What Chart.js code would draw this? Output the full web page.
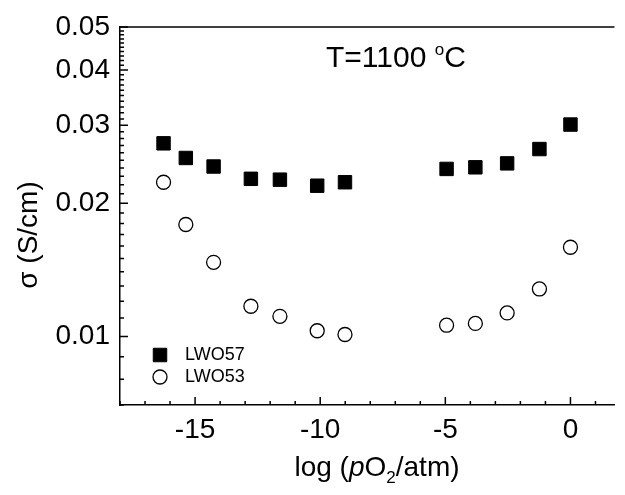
<!DOCTYPE html>
<html lang="en">
  <head>
    <meta charset="UTF-8" />
    <meta name="viewport" content="width=device-width, initial-scale=1.0" />
    <script src="https://cdn.jsdelivr.net/npm/chart.js"></script>
    <title>Conductivity vs pO2</title>
    <style>
      body { margin: 0; background: #fff; }
      #wrap { width: 625px; height: 495px; }
    </style>
  </head>
  <body>
    <div id="wrap"><canvas id="myChart"></canvas></div>

    <script>
      // log(pO2/atm) of each measurement, shared by both samples
      const logPO2 = [-16.26, -15.37, -14.26, -12.77, -11.61, -10.12, -9.01, -4.95, -3.8, -2.53, -1.24, 0.0];
      // conductivity in S/cm
      const sigmaLWO57 = [0.0273, 0.0253, 0.0242, 0.0227, 0.0226, 0.0219, 0.0223, 0.0239, 0.0241, 0.0246, 0.0265, 0.0301];
      const sigmaLWO53 = [0.0223, 0.0179, 0.0147, 0.0117, 0.0111, 0.0103, 0.0101, 0.0106, 0.0107, 0.0113, 0.0128, 0.0159];
      const seriesNames = ["LWO57", "LWO53"];
      const xTickLabels = [-15, -10, -5, 0];
      const yTickLabels = [0.01, 0.02, 0.03, 0.04, 0.05];

      const FONT = '"Liberation Sans", Arial, sans-serif';

      function toPoints(ys) {
        return logPO2.map((x, i) => ({ x: x, y: ys[i] }));
      }

      // inward ticks, top frame line, titles, legend and the temperature note
      const decorations = {
        id: "decorations",
        afterDraw(chart) {
          const ctx = chart.ctx;
          const area = chart.chartArea;
          const xs = chart.scales.x;
          const ys = chart.scales.y;
          ctx.save();
          ctx.strokeStyle = "#000";
          ctx.lineWidth = 1.5;

          // top frame line
          ctx.beginPath();
          ctx.moveTo(area.left, area.top);
          ctx.lineTo(area.right, area.top);
          ctx.stroke();

          // x ticks every 1, long ones on the labels
          ctx.beginPath();
          for (let v = Math.ceil(xs.min); v <= xs.max; v++) {
            const px = xs.getPixelForValue(v);
            const len = xTickLabels.includes(v) ? 8 : 4;
            ctx.moveTo(px, area.bottom);
            ctx.lineTo(px, area.bottom - len);
          }
          // y ticks every 0.001, long ones on the labels
          for (let k = 7; k <= 50; k++) {
            const v = k / 1000;
            const py = ys.getPixelForValue(v);
            const len = k % 10 === 0 ? 8 : 4;
            ctx.moveTo(area.left, py);
            ctx.lineTo(area.left + len, py);
          }
          ctx.stroke();

          ctx.fillStyle = "#000";

          // x title: log (pO2/atm)
          const parts = [
            { t: "log (", f: "28px " + FONT, dy: 0 },
            { t: "p", f: "italic 28px " + FONT, dy: 0 },
            { t: "O", f: "28px " + FONT, dy: 0 },
            { t: "2", f: "17px " + FONT, dy: 7 },
            { t: "/atm)", f: "28px " + FONT, dy: 0 },
          ];
          let total = 0;
          parts.forEach((p) => {
            ctx.font = p.f;
            p.w = ctx.measureText(p.t).width;
            total += p.w;
          });
          let cx = 377 - total / 2;
          ctx.textBaseline = "alphabetic";
          ctx.textAlign = "left";
          parts.forEach((p) => {
            ctx.font = p.f;
            ctx.fillText(p.t, cx, 476 + p.dy);
            cx += p.w;
          });

          // y title
          ctx.save();
          ctx.translate(37, 235);
          ctx.rotate(-Math.PI / 2);
          ctx.font = "28px " + FONT;
          ctx.textAlign = "center";
          ctx.textBaseline = "alphabetic";
          ctx.fillText("\u03c3 (S/cm)", 0, 0);
          ctx.restore();

          // temperature note
          ctx.font = "30px " + FONT;
          ctx.textAlign = "left";
          ctx.fillText("T=1100 ", 326, 67);
          let tx = 326 + ctx.measureText("T=1100 ").width;
          ctx.font = "17px " + FONT;
          ctx.fillText("o", tx, 55);
          tx += ctx.measureText("o").width;
          ctx.font = "30px " + FONT;
          ctx.fillText("C", tx, 67);

          // legend inside the plot, markers taken from the datasets
          chart.data.datasets.forEach((ds, i) => {
            const my = 355 + i * 22;
            ctx.lineWidth = ds.borderWidth;
            ctx.fillStyle = ds.pointBackgroundColor;
            ctx.strokeStyle = ds.pointBorderColor;
            ctx.beginPath();
            if (ds.pointStyle === "rect") {
              const s = 13.5;
              ctx.rect(160 - s / 2, my - s / 2, s, s);
            } else {
              ctx.arc(160, my, ds.pointRadius, 0, Math.PI * 2);
            }
            ctx.fill();
            ctx.stroke();
            ctx.fillStyle = "#000";
            ctx.font = "18px " + FONT;
            ctx.textBaseline = "middle";
            ctx.fillText(ds.label, 185, my);
          });
          ctx.restore();
        },
      };

      const config = {
        type: "scatter",
        data: {
          datasets: [
            {
              label: seriesNames[0],
              data: toPoints(sigmaLWO57),
              pointStyle: "rect",
              pointRadius: 9.5,
              pointHoverRadius: 9.5,
              borderWidth: 1,
              pointBackgroundColor: "#000",
              pointBorderColor: "#000",
            },
            {
              label: seriesNames[1],
              data: toPoints(sigmaLWO53),
              pointStyle: "circle",
              pointRadius: 7,
              pointHoverRadius: 7,
              borderWidth: 1.3,
              pointBackgroundColor: "#fff",
              pointBorderColor: "#000",
            },
          ],
        },
        options: {
          responsive: true,
          maintainAspectRatio: false,
          animation: false,
          layout: { padding: { top: 27, left: 0, right: 0, bottom: 0 } },
          plugins: {
            legend: { display: false },
            tooltip: { enabled: false },
          },
          scales: {
            x: {
              type: "linear",
              min: -18,
              max: 1.76,
              grid: { display: false, drawTicks: false },
              border: { display: true, color: "#000", width: 1.5 },
              afterBuildTicks: (s) => {
                s.ticks = xTickLabels.map((v) => ({ value: v }));
              },
              afterFit: (s) => {
                s.height = 90;
              },
              ticks: {
                color: "#000",
                font: { family: FONT, size: 28 },
                padding: 8,
                maxRotation: 0,
                callback: (v) => String(v),
              },
            },
            y: {
              type: "logarithmic",
              min: 0.007,
              max: 0.05,
              grid: { display: false, drawTicks: false },
              border: { display: true, color: "#000", width: 1.5 },
              afterBuildTicks: (s) => {
                s.ticks = yTickLabels.map((v) => ({ value: v }));
              },
              afterFit: (s) => {
                s.width = 120;
              },
              ticks: {
                color: "#000",
                font: { family: FONT, size: 28 },
                padding: 10,
                callback: (v) => v.toFixed(2),
              },
            },
          },
        },
        plugins: [decorations],
      };

      new Chart(document.getElementById("myChart"), config);
    </script>
  </body>
</html>
